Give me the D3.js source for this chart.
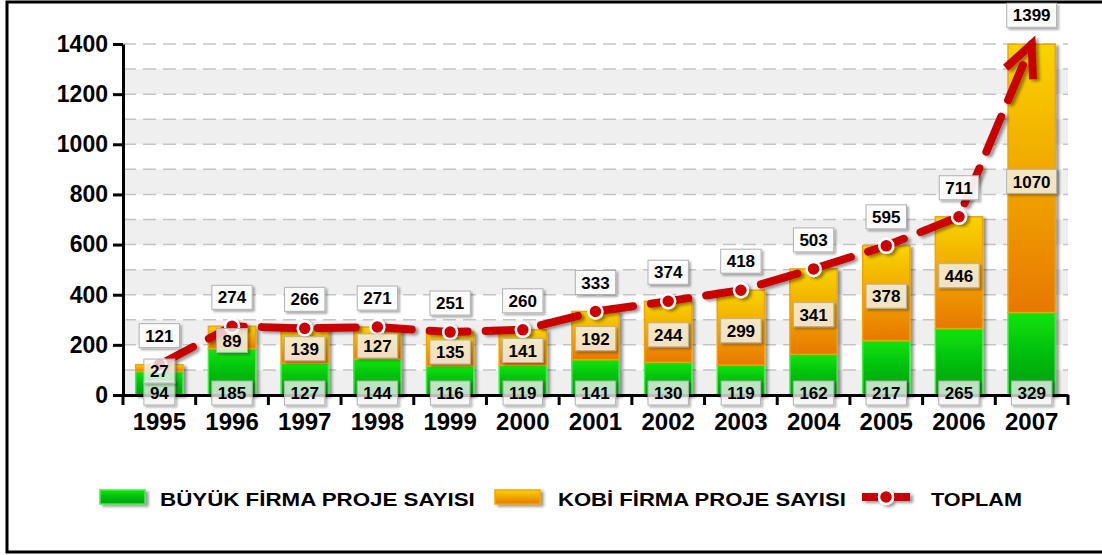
<!DOCTYPE html>
<html>
<head>
<meta charset="utf-8">
<script src="https://cdn.jsdelivr.net/npm/d3@7"></script>
<style>
  body { margin: 0; background: #fff; }
  text { font-family: "Liberation Sans", Arial, sans-serif; font-weight: bold; }
</style>
</head>
<body>
<div id="chart"></div>
<script>
// Chart data
const years = ["1995", "1996", "1997", "1998", "1999", "2000", "2001", "2002", "2003", "2004", "2005", "2006", "2007"];
const buyuk = [94, 185, 127, 144, 116, 119, 141, 130, 119, 162, 217, 265, 329];
const kobi = [27, 89, 139, 127, 135, 141, 192, 244, 299, 341, 378, 446, 1070];
const toplam = [121, 274, 266, 271, 251, 260, 333, 374, 418, 503, 595, 711, 1399];
const yTicks = [0, 200, 400, 600, 800, 1000, 1200, 1400];
const legendLabels = ["BÜYÜK FİRMA PROJE SAYISI", "KOBİ FİRMA PROJE SAYISI", "TOPLAM"];

const W = 1102, H = 555;
const margin = { top: 44, right: 34, bottom: 160, left: 123 },
    width = W - margin.left - margin.right,
    height = H - margin.top - margin.bottom;

const svg = d3.select("#chart")
    .append("svg")
    .attr("width", W)
    .attr("height", H);

const defs = svg.append("defs");

// gradients for the bars
const gGreen = defs.append("linearGradient").attr("id", "gGreen")
    .attr("x1", 0).attr("y1", 0).attr("x2", 0).attr("y2", 1);
gGreen.append("stop").attr("offset", "0%").attr("stop-color", "#08e408");
gGreen.append("stop").attr("offset", "100%").attr("stop-color", "#039a14");

const gOrange = defs.append("linearGradient").attr("id", "gOrange")
    .attr("x1", 0).attr("y1", 0).attr("x2", 0).attr("y2", 1);
gOrange.append("stop").attr("offset", "0%").attr("stop-color", "#f9d405");
gOrange.append("stop").attr("offset", "100%").attr("stop-color", "#e87800");

// shadows
const shadow = defs.append("filter").attr("id", "shadow")
    .attr("x", "-20%").attr("y", "-20%").attr("width", "150%").attr("height", "150%");
shadow.append("feDropShadow").attr("dx", 3).attr("dy", 2).attr("stdDeviation", 1.8)
    .attr("flood-color", "#000").attr("flood-opacity", 0.4);

const boxShadow = defs.append("filter").attr("id", "boxShadow")
    .attr("x", "-20%").attr("y", "-20%").attr("width", "150%").attr("height", "150%");
boxShadow.append("feDropShadow").attr("dx", 2).attr("dy", 2).attr("stdDeviation", 1)
    .attr("flood-color", "#000").attr("flood-opacity", 0.35);

// outer frame
svg.append("rect")
    .attr("x", 7).attr("y", 2)
    .attr("width", W + 40).attr("height", 550)
    .attr("fill", "none")
    .attr("stroke", "#000")
    .attr("stroke-width", 3);

const g = svg.append("g")
    .attr("transform", `translate(${margin.left},${margin.top})`);

// scales
const x = d3.scaleBand()
    .domain(years)
    .range([0, width])
    .paddingInner(0.35)
    .paddingOuter(0.175);

const y = d3.scaleLinear()
    .domain([0, 1400])
    .range([height, 0]);

// alternating gray bands and dashed grid
const minor = d3.range(0, 1400, 100);
g.selectAll(".band")
    .data(minor.filter(d => d % 200 === 0))
    .enter()
    .append("rect")
    .attr("x", 0)
    .attr("y", d => y(d + 100))
    .attr("width", width)
    .attr("height", d => y(d) - y(d + 100))
    .attr("fill", "#efefef");

g.selectAll(".grid")
    .data(d3.range(100, 1500, 100))
    .enter()
    .append("line")
    .attr("x1", 0).attr("x2", width)
    .attr("y1", d => y(d)).attr("y2", d => y(d))
    .attr("stroke", "#c4c4c4")
    .attr("stroke-width", 1.5)
    .attr("stroke-dasharray", "13,7");

// stacked bars
const bars = g.append("g").attr("filter", "url(#shadow)");
bars.selectAll(".big")
    .data(years)
    .enter()
    .append("rect")
    .attr("x", d => x(d))
    .attr("y", (d, i) => y(buyuk[i]))
    .attr("width", x.bandwidth())
    .attr("height", (d, i) => y(0) - y(buyuk[i]))
    .attr("fill", "url(#gGreen)")
    .attr("stroke", "#3ef23e")
    .attr("stroke-width", 1.5);

bars.selectAll(".kobi")
    .data(years)
    .enter()
    .append("rect")
    .attr("x", d => x(d))
    .attr("y", (d, i) => y(toplam[i]))
    .attr("width", x.bandwidth())
    .attr("height", (d, i) => y(buyuk[i]) - y(toplam[i]))
    .attr("fill", "url(#gOrange)")
    .attr("stroke", "#f2a400")
    .attr("stroke-width", 1.5);

// Y axis
const yAxis = g.append("g")
    .call(d3.axisLeft(y).tickValues(yTicks).tickFormat(d3.format("d"))
        .tickSize(10).tickSizeOuter(0).tickPadding(5));
yAxis.select(".domain").attr("stroke-width", 3);
yAxis.selectAll(".tick line").attr("stroke-width", 3);
yAxis.selectAll(".tick text")
    .attr("font-size", 23)
    .attr("font-family", "'Liberation Sans', Arial, sans-serif")
    .attr("fill", "#000");

// X axis: labels at band centres, ticks at band boundaries
const xAxis = g.append("g")
    .attr("transform", `translate(0,${height})`)
    .call(d3.axisBottom(x).tickSize(0).tickSizeOuter(0).tickPadding(0));
xAxis.select(".domain").attr("stroke-width", 3);
xAxis.selectAll(".tick text")
    .attr("y", 35)
    .attr("dy", 0)
    .attr("font-size", 24)
    .attr("font-family", "'Liberation Sans', Arial, sans-serif")
    .attr("fill", "#000");

const half = x.step() * x.paddingInner() / 2;
const bounds = years.map(d => x(d) - half).concat([width]);
xAxis.selectAll(".btick")
    .data(bounds)
    .enter()
    .append("line")
    .attr("x1", d => d).attr("x2", d => d)
    .attr("y1", 0).attr("y2", 10)
    .attr("stroke", "#000")
    .attr("stroke-width", 3);

// TOPLAM line
const pts = years.map((d, i) => [x(d) + x.bandwidth() / 2, y(toplam[i])]);
const lineG = g.append("g").attr("filter", "url(#shadow)");
lineG.append("path")
    .attr("d", d3.line()(pts))
    .attr("fill", "none")
    .attr("stroke", "#c90000")
    .attr("stroke-width", 8)
    .attr("stroke-linecap", "round")
    .attr("stroke-dasharray", "38,18");

// arrow head at the last point
const last = pts[pts.length - 1], prev = pts[pts.length - 2];
const back = Math.atan2(prev[1] - last[1], prev[0] - last[0]);
const arm = 35, spread = 25 * Math.PI / 180;
const a1 = [last[0] + arm * Math.cos(back + spread), last[1] + arm * Math.sin(back + spread)];
const a2 = [last[0] + arm * Math.cos(back - spread), last[1] + arm * Math.sin(back - spread)];
lineG.append("path")
    .attr("d", d3.line()([a1, last, a2]))
    .attr("fill", "none")
    .attr("stroke", "#c90000")
    .attr("stroke-width", 8)
    .attr("stroke-linejoin", "miter");

lineG.selectAll(".dot")
    .data(pts.slice(0, -1))
    .enter()
    .append("circle")
    .attr("cx", d => d[0])
    .attr("cy", d => d[1])
    .attr("r", 7)
    .attr("fill", "#cc0000")
    .attr("stroke", "#fff")
    .attr("stroke-width", 2.5);

// value boxes
function valueBox(parent, cx, cy, value, opacity) {
    const b = parent.append("g").attr("transform", `translate(${cx},${cy})`);
    const r = b.append("rect")
        .attr("fill", "#fff")
        .attr("fill-opacity", opacity)
        .attr("stroke", "#b0b0b0")
        .attr("stroke-width", 1)
        .attr("filter", "url(#boxShadow)");
    const t = b.append("text")
        .attr("text-anchor", "middle")
        .attr("dy", "0.36em")
        .attr("font-size", 17)
        .attr("fill", "#000")
        .text(value);
    const w = t.node().getComputedTextLength() + 12;
    r.attr("x", -w / 2).attr("y", -12).attr("width", w).attr("height", 24);
}

const labels = g.append("g");
years.forEach((d, i) => {
    const cx = x(d) + x.bandwidth() / 2;
    valueBox(labels, cx, y(0) - 2, buyuk[i], 0.7);
    valueBox(labels, cx, y((buyuk[i] + toplam[i]) / 2) + 3, kobi[i], 0.72);
    valueBox(labels, cx, y(toplam[i]) - 29, toplam[i], 0.9);
});

// legend
const lg = svg.append("g").attr("transform", "translate(0,497)");
lg.append("rect")
    .attr("x", 100).attr("y", -7).attr("width", 45).attr("height", 14)
    .attr("fill", "url(#gGreen)").attr("stroke", "#3ef23e").attr("stroke-width", 1.5)
    .attr("filter", "url(#shadow)");
lg.append("rect")
    .attr("x", 495).attr("y", -7).attr("width", 45).attr("height", 14)
    .attr("fill", "url(#gOrange)").attr("stroke", "#f2a400").attr("stroke-width", 1.5)
    .attr("filter", "url(#shadow)");
const ls = lg.append("g").attr("filter", "url(#shadow)");
ls.append("line")
    .attr("x1", 862).attr("x2", 910).attr("y1", 0).attr("y2", 0)
    .attr("stroke", "#c90000").attr("stroke-width", 8)
    .attr("stroke-dasharray", "16,16");
ls.append("circle")
    .attr("cx", 886).attr("cy", 0).attr("r", 7)
    .attr("fill", "#cc0000").attr("stroke", "#fff").attr("stroke-width", 2.5);

// legend texts stretched to the widths they take in the reference
const legendX = [160, 558, 931];
const legendW = [315, 288, 91];
lg.selectAll(".ltext")
    .data(legendLabels)
    .enter()
    .append("text")
    .attr("font-size", 18.5)
    .attr("fill", "#000")
    .text(d => d)
    .each(function (d, i) {
        const natural = this.getComputedTextLength();
        d3.select(this).attr("transform",
            `translate(${legendX[i]},9) scale(${legendW[i] / natural},1)`);
    });
</script>
</body>
</html>
